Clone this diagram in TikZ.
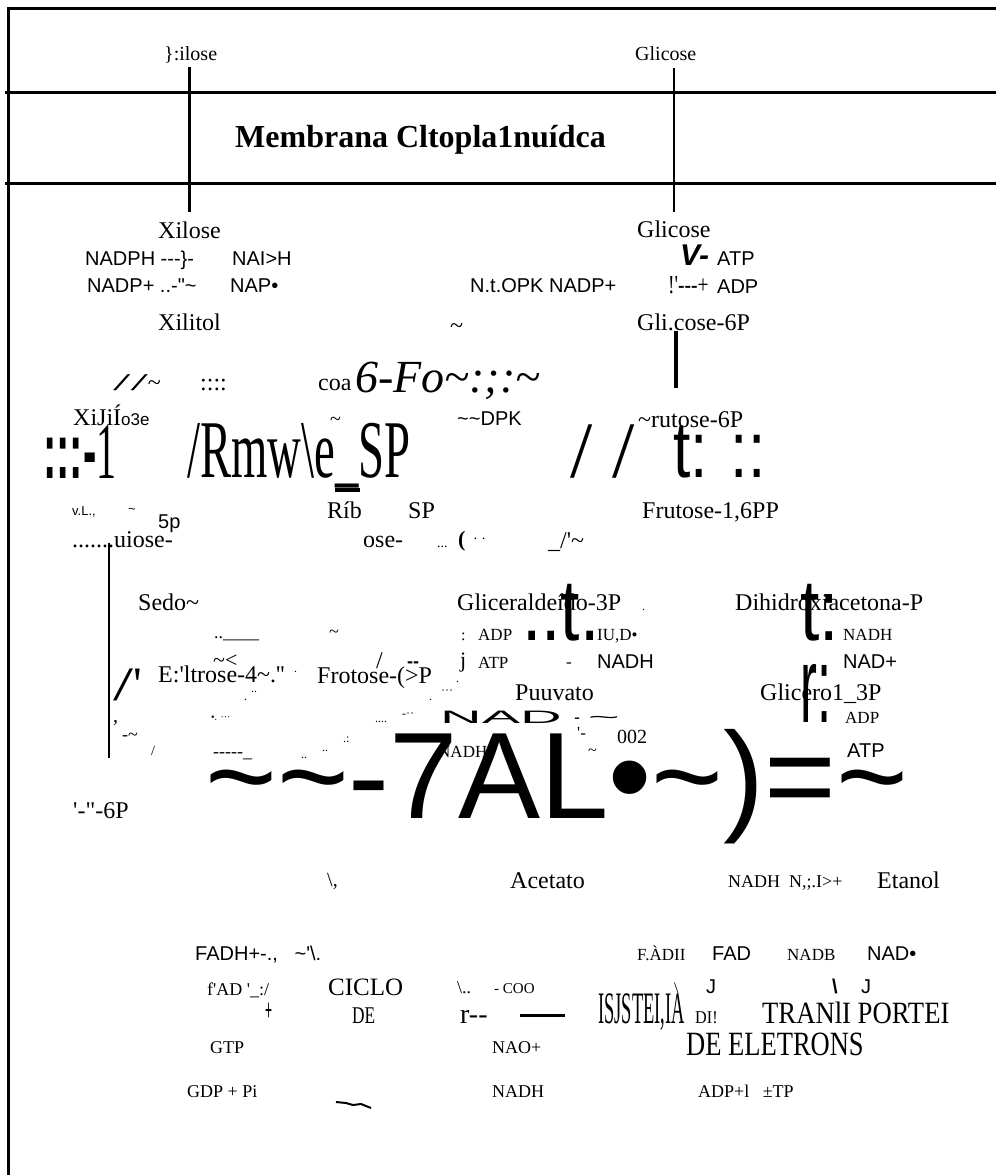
\documentclass[tikz,border=0pt]{standalone}
\usepackage{fontspec}
\setmainfont{Liberation Serif}
\setsansfont{Liberation Sans}
\newfontfamily\srf{Liberation Serif}
\newfontfamily\snf{Liberation Sans}
\usepackage{graphicx}
\usetikzlibrary{calc}
\newcommand\fs[1]{\fontsize{#1}{#1}\selectfont}
\newcommand\tld{\textasciitilde}
\newcommand\nar[2]{\scalebox{#1}[1]{#2}}

\begin{document}
\begin{tikzpicture}[x=1pt,y=-1pt,
  lbl/.style={anchor=base west,inner sep=0pt,font=\srf\fs{#1}},
  lbl/.default=24,
  cof/.style={anchor=base west,inner sep=0pt,font=\snf\fs{#1}},
  cof/.default=20,
  wall/.style={line width=3pt},
  rail/.style={line width=2.5pt}
]
\useasboundingbox (0,0) rectangle (996,1175);
\draw[wall] (8,1175) -- (8,8) -- (996,8);
\draw[wall] (5,92) -- (996,92);
\draw[wall] (5,183) -- (996,183);

\node[lbl=20] (xilTop) at (164,60) {\}:ilose};
\node[lbl=20] (glcTop) at (635,60) {Glicose};
\node[lbl,font=\srf\bfseries\fs{32}] (memb) at (235,147) {Membrana Cltopla1nuídca};

\node[lbl] (xil) at (158,238) {Xilose};
\node[cof] (nadph) at (85,265) {NADPH ---\}-};
\node[cof] (naih) at (232,265) {NAI>H};
\node[cof] (nadpA) at (87,292) {NADP+ ..-"\tld};
\node[cof] (napB) at (230,292) {NAP•};
\node[cof] (ntopk) at (470,292) {N.t.OPK NADP+};
\node[lbl] (xit) at (158,330) {Xilitol};
\node[lbl] (tlA) at (450,333) {\tld};

\node[lbl] (glc) at (637,237) {Glicose};
\node[cof=30,font=\snf\bfseries\itshape\fs{30}] (vdash) at (680,265) {V-};
\node[cof] (atpA) at (717,265) {ATP};
\node[lbl=26] (bang) at (668,293) {\nar{0.75}{!'---+}};
\node[cof] (adpA) at (717,293) {ADP};
\node[lbl] (g6p) at (637,330) {Gli.cose-6P};

\node[lbl] (slsh) at (113,390) {\nar{2.6}{//}\tld};
\node[lbl] (cols) at (200,390) {::::};
\node[lbl] (coa) at (318,390) {coa};
\node[lbl,font=\srf\itshape\fs{46}] (sixF) at (355,392) {6-Fo\tld:;:\tld};
\node[lbl] (xij) at (73,425) {XiJiÍ{\snf\fs{17}o3e}};
\node[lbl=20] (tlB) at (330,425) {\tld};
\node[cof] (dpk) at (457,425) {\tld\tld DPK};
\node[lbl] (f6p) at (638,427) {\tld rutose-6P};
\node[lbl=80] (dots) at (43,478) {\nar{0.5}{{\snf\bfseries :::-}1}};
\node[lbl=82] (rmw) at (187,477) {\nar{0.57}{/Rmw\textbackslash e\_SP}};
\node[lbl=80] (slshB) at (570,477) {/ /};
\node[cof=80] (tcol) at (673,477) {\nar{0.78}{t: ::}};
\draw[line width=4pt] (335,490) -- (360,490);

\node[lbl] (frbp) at (642,518) {Frutose-1,6PP};
\node[cof=13] (vl) at (72,515) {v.L.,};
\node[cof=13] (tlC) at (128,513) {\tld};
\node[cof] (fivep) at (158,528) {5p};
\node[lbl] (uio) at (72,547) {.......uiose-};
\node[lbl] (rib) at (327,518) {Ríb};
\node[lbl] (spA) at (408,518) {SP};
\node[lbl] (ose) at (363,547) {ose-};
\node[lbl=14] (ell) at (437,547) {...};
\node[lbl,font=\srf\bfseries\fs{22}] (paren) at (458,546) {(};
\node[lbl=14] (mid) at (473,543) {· ·};
\node[lbl] (usl) at (548,548) {\_/'\tld};

\node[lbl] (sedo) at (138,610) {Sedo\tld};
\node[lbl] (gap) at (457,610) {Gliceraldeído-3P};
\node[cof=87] (ttA) at (522,640) {\nar{0.8}{..t.}};
\node[lbl=12] (dotA) at (642,610) {.};
\node[lbl] (dhap) at (735,610) {Dihidroxiacetona-P};
\node[cof=87] (ttB) at (800,640) {\nar{0.8}{t:}};
\node[lbl=16] (colA) at (461,640) {:};
\node[lbl=17] (adpB) at (478,640) {ADP};
\node[lbl=17] (iud) at (597,640) {IU,D•};
\node[lbl=17] (nadhA) at (843,640) {NADH};
\node[lbl=22] (jj) at (460,667) {j};
\node[lbl=17] (atpB) at (478,668) {ATP};
\node[lbl=17] (hyph) at (566,667) {-};
\node[cof] (nadhB) at (597,668) {NADH};
\node[cof] (nadC) at (843,668) {NAD+};
\node[cof=108] (rcol) at (800,722) {\nar{0.47}{r:}};
\node[lbl] (pyr) at (515,700) {Puuvato};
\node[lbl] (g3p) at (760,700) {Glicero1\_3P};
\node[lbl=17] (adpC) at (845,723) {ADP};
\node[cof=18] (nadWide) at (440,723) {\nar{3.2}{NAD}};
\node[cof=18] (hyTl) at (574,723) {-\hspace{8pt}\nar{3}{\tld}};
\node[lbl=17] (tick) at (577,738) {'-};
\node[lbl=20] (co2) at (617,743) {002};
\node[lbl=16] (tlD) at (588,755) {\tld};
\node[lbl=17] (nadhD) at (438,757) {NADH};
\node[cof] (atpC) at (847,757) {ATP};

\node[lbl=48] (strk) at (113,700) {\nar{1.5}{/}'};
\node[lbl] (ery) at (158,682) {E:'ltrose-4\tld.''};
\node[lbl=22] (tlLt) at (213,667) {\tld<};
\node[lbl=18] (uline) at (214,638) {..\_\_\_\_};
\node[lbl=18] (tlE) at (329,637) {\tld};
\node[lbl] (fro) at (317,683) {Frotose-(>P};
\node[lbl] (slC) at (376,668) {/};
\node[cof,font=\snf\bfseries\fs{18}] (dd) at (407,667) {--};
\node[lbl=20] (comma) at (113,722) {,};
\node[lbl=10] (nzA) at (211,720) {•. ···};
\node[lbl=18] (nzB) at (122,740) {-\tld};
\node[lbl=14] (nzC) at (151,755) {/};
\node[lbl=18] (nzD) at (213,757) {-----\_};
\node[lbl=12] (nzE) at (301,758) {..};
\node[lbl=12] (nzF) at (322,751) {..};
\node[lbl=12] (nzG) at (343,742) {.:};
\node[lbl=12] (nzH) at (375,722) {....};
\node[lbl=12] (nzI) at (402,717) {-··};
\node[lbl=12] (nzJ) at (429,700) {.};
\node[lbl=12] (nzK) at (441,694) {···};
\node[lbl=12] (nzL) at (244,700) {.};
\node[lbl=12] (nzM) at (251,692) {..};
\node[lbl=12] (nzN) at (294,672) {.};
\node[lbl=12] (nzO) at (456,682) {.};

\node[cof=123] (big) at (205,818) {\tld\tld-7AL•\tld)=\tld};
\node[lbl] (h6p) at (73,818) {'-"-6P};

\node[lbl=20] (bsl) at (327,886) {\textbackslash,};
\node[lbl] (acet) at (510,888) {Acetato};
\node[lbl=18] (nadhE) at (728,887) {NADH\ \ N,;.I>+};
\node[lbl] (etoh) at (877,888) {Etanol};

\node[cof] (fadh) at (195,960) {FADH+-.,\ \ \ \tld'\textbackslash.};
\node[lbl=18] (fad) at (207,995) {f'AD '\_:/};
\node[lbl=25] (ciclo) at (328,995) {CICLO};
\node[lbl=18] (bdots) at (457,993) {\textbackslash..};
\node[lbl=15] (coo) at (494,993) {- COO};
\node[lbl=17] (fadii) at (637,960) {F.ÀDII};
\node[cof] (fadB) at (712,960) {FAD};
\node[lbl=17] (nadb) at (787,960) {NADB};
\node[cof] (nadD) at (867,960) {NAD•};
\node[lbl=16] (bsA) at (674,993) {\textbackslash};
\node[cof] (jA) at (706,993) {J};
\node[cof,font=\snf\bfseries\fs{20}] (bsB) at (832,993) {\textbackslash};
\node[cof] (jB) at (861,993) {J};
\node[cof] (plus) at (265,1020) {\scalebox{0.6}[1.5]{+}};
\node[lbl] (de) at (352,1023) {\nar{0.72}{DE}};
\node[lbl=28] (rdash) at (460,1023) {r--};
\draw[line width=3pt] (520,1015) -- (565,1015);
\node[lbl=45] (sist) at (598,1023) {\nar{0.41}{ISJSTEI,IA}};
\node[lbl=18] (di) at (695,1023) {\nar{0.9}{DI!}};
\node[lbl=31] (trans) at (762,1023) {\nar{0.86}{TRANlI PORTEI}};
\node[lbl=34] (elet) at (686,1055) {\nar{0.78}{DE ELETRONS}};
\node[lbl=18] (gtp) at (210,1053) {GTP};
\node[lbl=18] (nao) at (492,1053) {NAO+};
\node[lbl=18] (gdp) at (187,1097) {GDP + Pi};
\draw[line width=2pt] (336,1102) -- (346,1103) -- (353,1105) -- (361,1104) -- (371,1108);
\node[lbl=18] (nadhF) at (492,1097) {NADH};
\node[lbl=18] (adpl) at (698,1097) {ADP+l\ \ \ ±TP};

\draw[rail,shorten <=4pt,shorten >=9pt] (xilTop.south -| xil) -- (xil);
\draw[rail,shorten <=8pt,shorten >=8pt] (glcTop.south -| glc) -- (glc);
\draw[rail,line width=4pt,shorten >=23pt] ([xshift=39pt]g6p.south west) -- ([xshift=38pt]f6p.north west);
\draw[rail,line width=2.8pt,shorten >=44pt] ([xshift=37pt,yshift=4pt]uio.base west) -- ([xshift=36pt]h6p.north west);
\end{tikzpicture}
\end{document}
